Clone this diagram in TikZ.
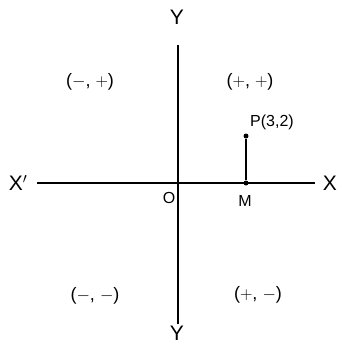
\documentclass[tikz,border=0pt]{standalone}
\usepackage{fontspec}
\setmainfont{Liberation Sans}
\usetikzlibrary{positioning, calc}

\begin{document}
\begin{tikzpicture}[
  x=1pt, y=-1pt,
  axis/.style={line width=1.6pt, draw=black},
  axlbl/.style={font=\fontsize{21}{21}\selectfont, inner sep=1pt},
  quad/.style={font=\fontsize{18}{18}\selectfont, inner sep=1pt},
  ptlbl/.style={font=\fontsize{16}{16}\selectfont, inner sep=1pt},
  dot/.style={circle, fill=black, inner sep=0pt, minimum size=5pt},
]
  \useasboundingbox (0,0) rectangle (341,346);

  % -- Axes --
  \coordinate (xl) at (37,183);
  \coordinate (xr) at (315,183);
  \coordinate (yt) at (178,45);
  \coordinate (yb) at (178,324);
  \draw[axis] (xl) -- (xr);
  \draw[axis] (yt) -- (yb);

  % -- Axis labels --
  \node[axlbl] (X) at (330,183) {X};
  \node[axlbl] (Xp) at (18,183) {X$'$};
  \node[axlbl] (Y) at (177,17) {Y};
  \node[axlbl] (Yp) at (177,333) {Y};
  \node[ptlbl] (O) at (169,198) {O};

  % -- Point P and its foot M --
  \node[dot] (P) at (246,136) {};
  \node[dot] (M) at (246,183) {};
  \draw[line width=1.6pt] (P) -- (M);
  \node[ptlbl] (Plbl) at (272,122) {P(3,2)};
  \node[ptlbl] (Mlbl) at (245,201) {M};

  % -- Quadrant signs --
  \node[quad] (q2) at (90,82) {($-$, $+$)};
  \node[quad] (q1) at (250,82) {($+$, $+$)};
  \node[quad] (q3) at (95,296) {($-$, $-$)};
  \node[quad] (q4) at (258,295) {($+$, $-$)};
\end{tikzpicture}
\end{document}
